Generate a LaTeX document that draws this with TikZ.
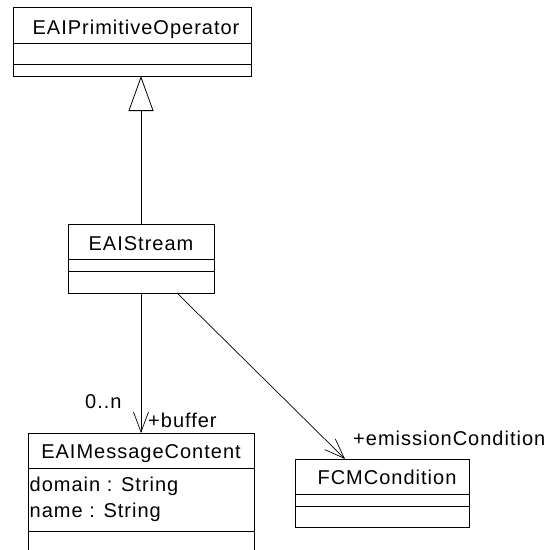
\documentclass[tikz,border=0pt]{standalone}
\usepackage{fontspec}
\setmainfont{Liberation Sans}[LetterSpace=5]
\usetikzlibrary{arrows.meta}
\begin{document}
\begin{tikzpicture}[x=1pt,y=-1pt,
  every node/.style={font=\fontsize{20pt}{24pt}\selectfont},
  cls/.style={draw, line width=1pt, anchor=north west, inner sep=0pt, outer sep=0pt},
  comp/.style={line width=0.9pt},
  title/.style={anchor=base, inner sep=0pt},
  attr/.style={anchor=base west, inner sep=0pt},
  lbl/.style={anchor=base west, inner sep=0pt},
  conn/.style={line width=0.7pt},
  gen/.style={conn, -{Triangle[open, length=35pt, width=25pt, line width=0.8pt]}},
  assoc/.style={conn, -{Straight Barb[length=20pt, width=15pt, line width=0.7pt]}}]
\useasboundingbox (0,0) rectangle (547,550);
\clip (0,0) rectangle (547,550);
% EAIPrimitiveOperator
\node[cls, minimum width=238pt, minimum height=69pt] (prim) at (13,7) {};
\draw[comp] ([yshift=-36pt]prim.north west) -- ([yshift=-36pt]prim.north east);
\draw[comp] ([yshift=-57pt]prim.north west) -- ([yshift=-57pt]prim.north east);
\node[title] (primT) at ([xshift=4pt,yshift=-27pt]prim.north) {EAIPrimitiveOperator};
% EAIStream
\node[cls, minimum width=146pt, minimum height=69pt] (stream) at (68,224) {};
\draw[comp] ([yshift=-35pt]stream.north west) -- ([yshift=-35pt]stream.north east);
\draw[comp] ([yshift=-47pt]stream.north west) -- ([yshift=-47pt]stream.north east);
\node[title] (streamT) at ([yshift=-26pt]stream.north) {EAIStream};
% EAIMessageContent
\node[cls, minimum width=226pt, minimum height=125pt] (msg) at (28,433) {};
\draw[comp] ([yshift=-35pt]msg.north west) -- ([yshift=-35pt]msg.north east);
\draw[comp] ([yshift=-98pt]msg.north west) -- ([yshift=-98pt]msg.north east);
\node[title] (msgT) at ([yshift=-25pt]msg.north) {EAIMessageContent};
\node[attr] (a1) at ([xshift=1.5pt,yshift=-58pt]msg.north west) {domain : String};
\node[attr] (a2) at ([xshift=1.5pt,yshift=-84pt]msg.north west) {name : String};
% FCMCondition
\node[cls, minimum width=174pt, minimum height=68pt] (fcm) at (295,459) {};
\draw[comp] ([yshift=-35pt]fcm.north west) -- ([yshift=-35pt]fcm.north east);
\draw[comp] ([yshift=-47pt]fcm.north west) -- ([yshift=-47pt]fcm.north east);
\node[title] (fcmT) at ([xshift=5pt,yshift=-25pt]fcm.north) {FCMCondition};
% connectors
\draw[gen] (stream.north) -- (prim.south -| stream.north);
\draw[assoc] (stream.south) -- (msg.north);
\draw[assoc] ([xshift=36pt]stream.south) -- ([xshift=-37pt]fcm.north);
% labels
\node[lbl] (mult) at (85,408) {0..n};
\node[lbl] (buf) at (148,427) {+buffer};
\node[lbl] (emis) at (353,445) {+emissionCondition};
\end{tikzpicture}
\end{document}
